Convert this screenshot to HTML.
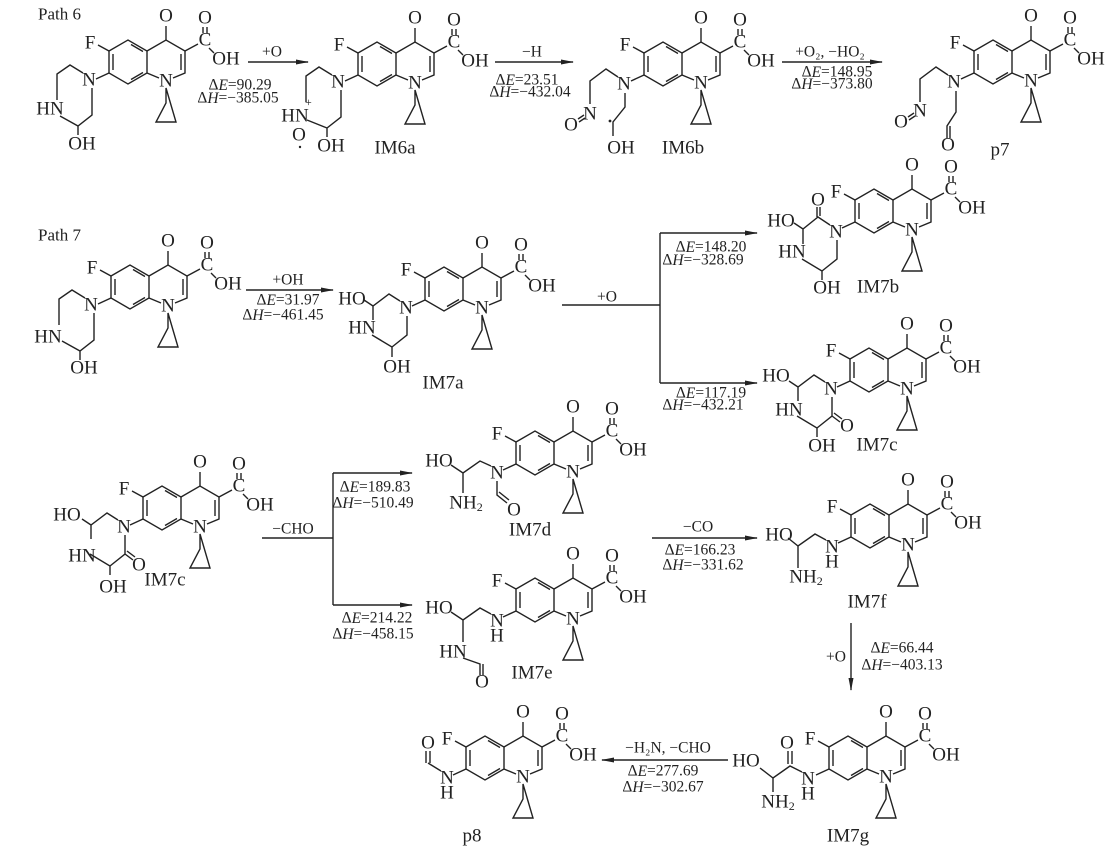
<!DOCTYPE html>
<html><head><meta charset="utf-8"><style>
html,body{margin:0;padding:0;background:#fff;}
svg{display:block;}
text{font-family:"Liberation Serif",serif;fill:#222;}
.a{font-size:19px;dominant-baseline:central;text-anchor:middle;}
.e{font-size:15.5px;dominant-baseline:central;text-anchor:middle;}
.lb{font-size:19px;dominant-baseline:central;text-anchor:middle;}
.s{stroke:#222;stroke-width:1.4;fill:none;}
</style></head><body>
<svg width="1117" height="848" viewBox="0 0 1117 848" xmlns="http://www.w3.org/2000/svg">
<defs>
<marker id="ar" markerWidth="13" markerHeight="7" refX="12" refY="3.5" orient="auto" markerUnits="userSpaceOnUse">
<path d="M0,1 L13,3.5 L0,6 Z" fill="#222"/></marker>
<g id="core" class="s">
<path d="M-19,-11 L0,-22 L19,-11 L19,11 L0,22 L-19,11 Z"/>
<path d="M-15,-8 L-15,8 M3,-17.5 L15,-10.5 M3,17.5 L15,10.5"/>
<path d="M19,-11 L38,-22 L57,-11 L57,11 L45,16 M31,16 L19,11 M53,-8 L53,8"/>
<path d="M38,-22 L38,-36 M57,-11 L70,-18 M75,-29 L75,-35 M79,-29 L79,-35 M81,-14 L86,-9"/>
<path d="M38,26 L38,41 L28,60 L48,60 Z"/>
<path d="M-19,-11 L-30,-17 M-19,11 L-32,17"/>
</g>
</defs>
<g class="s" marker-end="url(#ar)">
<path d="M248,62 L308,62"/>
<path d="M495,62 L573,62"/>
<path d="M782,62 L882,62"/>
<path d="M246,290 L333,290"/>
<path d="M660,233 L757,233"/>
<path d="M660,383 L757,383"/>
<path d="M333,473 L412,473"/>
<path d="M333,605 L412,605"/>
<path d="M652,538 L757,538"/>
<path d="M851,623 L851,690"/>
<path d="M728,760 L602,760"/>
</g>
<path class="s" d="M562,305 L660,305 M660,233 L660,383 M262,538 L333,538 M333,473 L333,605"/>

<text x="38" y="14" style="font-size:17px;dominant-baseline:central">Path 6</text>
<text x="38" y="235" style="font-size:17px;dominant-baseline:central">Path 7</text>

<text class="e" x="272" y="52">+O</text>
<text class="e" x="240" y="85">Δ<tspan font-style="italic">E</tspan>=90.29</text>
<text class="e" x="238" y="98">Δ<tspan font-style="italic">H</tspan>=−385.05</text>
<text class="e" x="532" y="52">−H</text>
<text class="e" x="527" y="80">Δ<tspan font-style="italic">E</tspan>=23.51</text>
<text class="e" x="530" y="92">Δ<tspan font-style="italic">H</tspan>=−432.04</text>
<text class="e" x="830" y="52">+O₂, −HO₂</text>
<text class="e" x="837" y="72">Δ<tspan font-style="italic">E</tspan>=148.95</text>
<text class="e" x="832" y="84">Δ<tspan font-style="italic">H</tspan>=−373.80</text>
<text class="e" x="288" y="280">+OH</text>
<text class="e" x="288" y="300">Δ<tspan font-style="italic">E</tspan>=31.97</text>
<text class="e" x="283" y="315">Δ<tspan font-style="italic">H</tspan>=−461.45</text>
<text class="e" x="607" y="297">+O</text>
<text class="e" x="711" y="247">Δ<tspan font-style="italic">E</tspan>=148.20</text>
<text class="e" x="703" y="260">Δ<tspan font-style="italic">H</tspan>=−328.69</text>
<text class="e" x="711" y="393">Δ<tspan font-style="italic">E</tspan>=117.19</text>
<text class="e" x="703" y="405">Δ<tspan font-style="italic">H</tspan>=−432.21</text>
<text class="e" x="293" y="529">−CHO</text>
<text class="e" x="375" y="487">Δ<tspan font-style="italic">E</tspan>=189.83</text>
<text class="e" x="373" y="503">Δ<tspan font-style="italic">H</tspan>=−510.49</text>
<text class="e" x="377" y="618">Δ<tspan font-style="italic">E</tspan>=214.22</text>
<text class="e" x="373" y="634">Δ<tspan font-style="italic">H</tspan>=−458.15</text>
<text class="e" x="698" y="527">−CO</text>
<text class="e" x="700" y="550">Δ<tspan font-style="italic">E</tspan>=166.23</text>
<text class="e" x="703" y="565">Δ<tspan font-style="italic">H</tspan>=−331.62</text>
<text class="e" x="836" y="657">+O</text>
<text class="e" x="902" y="648">Δ<tspan font-style="italic">E</tspan>=66.44</text>
<text class="e" x="902" y="665">Δ<tspan font-style="italic">H</tspan>=−403.13</text>
<text class="e" x="668" y="748">−H₂N, −CHO</text>
<text class="e" x="663" y="771">Δ<tspan font-style="italic">E</tspan>=277.69</text>
<text class="e" x="663" y="787">Δ<tspan font-style="italic">H</tspan>=−302.67</text>

<text class="lb" x="395" y="148">IM6a</text>
<text class="lb" x="683" y="148">IM6b</text>
<text class="lb" x="1000" y="150">p7</text>
<text class="lb" x="443" y="383">IM7a</text>
<text class="lb" x="878" y="287">IM7b</text>
<text class="lb" x="877" y="445">IM7c</text>
<text class="lb" x="165" y="580">IM7c</text>
<text class="lb" x="530" y="530">IM7d</text>
<text class="lb" x="532" y="673">IM7e</text>
<text class="lb" x="867" y="602">IM7f</text>
<text class="lb" x="848" y="836">IM7g</text>
<text class="lb" x="472" y="836">p8</text>

<g transform="translate(128,62)">
<use href="#core"/>
<text class="a" x="-38" y="-19">F</text><text class="a" x="38" y="-46">O</text><text class="a" x="77" y="-44">O</text>
<text class="a" x="77" y="-22">C</text><text class="a" x="98" y="-3">OH</text><text class="a" x="38" y="19">N</text>
<text class="a" x="-39" y="18">N</text>
<path class="s" d="M-45,11 L-58,3 L-71,12 L-71,38 M-68,54 L-50,64 L-36,53 L-36,26 M-50,64 L-50,73"/>
<text class="a" x="-78" y="47">HN</text><text class="a" x="-46" y="82">OH</text>
</g>
<g transform="translate(377,64)">
<use href="#core"/>
<text class="a" x="-38" y="-19">F</text><text class="a" x="38" y="-46">O</text><text class="a" x="77" y="-44">O</text>
<text class="a" x="77" y="-22">C</text><text class="a" x="98" y="-3">OH</text><text class="a" x="38" y="19">N</text>
<text class="a" x="-39" y="18">N</text>
<path class="s" d="M-45,11 L-58,3 L-71,12 L-71,38 M-70,56 L-50,64 L-36,53 L-36,26 M-50,64 L-50,73"/>
<text class="a" x="-82" y="52">HN</text><text style="font-size:12px" x="-72" y="42">+</text>
<text class="a" x="-78" y="71">O</text><circle cx="-77" cy="83" r="1.2" fill="#222"/>
<text class="a" x="-46" y="82">OH</text>
</g>
<g transform="translate(663,64)">
<use href="#core"/>
<text class="a" x="-38" y="-19">F</text><text class="a" x="38" y="-46">O</text><text class="a" x="77" y="-44">O</text>
<text class="a" x="77" y="-22">C</text><text class="a" x="98" y="-3">OH</text><text class="a" x="38" y="19">N</text>
<text class="a" x="-39" y="20">N</text>
<path class="s" d="M-45,13 L-57,5 L-73,17 L-73,40 M-85,55 L-79,51 M-84,58 L-78,54 M-38,29 L-38,43 L-50,58 L-50,72"/>
<circle cx="-53" cy="57" r="1.4" fill="#222"/>
<text class="a" x="-73" y="50">N</text><text class="a" x="-92" y="61">O</text>
<text class="a" x="-42" y="84">OH</text>
</g>
<g transform="translate(993,62)">
<use href="#core"/>
<text class="a" x="-38" y="-19">F</text><text class="a" x="38" y="-46">O</text><text class="a" x="77" y="-44">O</text>
<text class="a" x="77" y="-22">C</text><text class="a" x="98" y="-3">OH</text><text class="a" x="38" y="19">N</text>
<text class="a" x="-39" y="20">N</text>
<path class="s" d="M-45,13 L-57,5 L-73,17 L-73,40 M-85,55 L-79,51 M-84,58 L-78,54 M-37,29 L-37,50 L-46,64 L-46,76 M-43,64 L-43,76"/>
<text class="a" x="-73" y="49">N</text><text class="a" x="-92" y="60">O</text>
<text class="a" x="-45" y="83">O</text>
</g>
<g transform="translate(130,287)">
<use href="#core"/>
<text class="a" x="-38" y="-19">F</text><text class="a" x="38" y="-46">O</text><text class="a" x="77" y="-44">O</text>
<text class="a" x="77" y="-22">C</text><text class="a" x="98" y="-3">OH</text><text class="a" x="38" y="19">N</text>
<text class="a" x="-39" y="18">N</text>
<path class="s" d="M-45,11 L-58,3 L-71,12 L-71,38 M-68,54 L-50,64 L-36,53 L-36,26 M-50,64 L-50,73"/>
<text class="a" x="-82" y="50">HN</text><text class="a" x="-46" y="81">OH</text>
</g>
<g transform="translate(444,289)">
<use href="#core"/>
<text class="a" x="-38" y="-19">F</text><text class="a" x="38" y="-46">O</text><text class="a" x="77" y="-44">O</text>
<text class="a" x="77" y="-22">C</text><text class="a" x="98" y="-3">OH</text><text class="a" x="38" y="19">N</text>
<text class="a" x="-38" y="19">N</text>
<path class="s" d="M-44,12 L-55,5 L-71,17 L-80,11 M-71,17 L-71,31 M-72,46 L-52,58 L-52,68 M-52,58 L-37,46 L-37,27"/>
<text class="a" x="-92" y="10">HO</text><text class="a" x="-82" y="39">HN</text><text class="a" x="-47" y="78">OH</text>
</g>
<g transform="translate(874,211)">
<use href="#core"/>
<text class="a" x="-38" y="-19">F</text><text class="a" x="38" y="-46">O</text><text class="a" x="77" y="-44">O</text>
<text class="a" x="77" y="-22">C</text><text class="a" x="98" y="-3">OH</text><text class="a" x="38" y="19">N</text>
<text class="a" x="-38" y="21">N</text>
<path class="s" d="M-44,14 L-56,6 L-71,18 L-80,12 M-57,6 L-57,-4 M-54,5 L-54,-4 M-71,18 L-71,33 M-72,48 L-52,60 L-52,69 M-52,60 L-37,48 L-37,29"/>
<text class="a" x="-56" y="-11">O</text>
<text class="a" x="-93" y="10">HO</text><text class="a" x="-82" y="41">HN</text><text class="a" x="-47" y="77">OH</text>
</g>
<g transform="translate(869,370)">
<use href="#core"/>
<text class="a" x="-38" y="-19">F</text><text class="a" x="38" y="-46">O</text><text class="a" x="77" y="-44">O</text>
<text class="a" x="77" y="-22">C</text><text class="a" x="98" y="-3">OH</text><text class="a" x="38" y="19">N</text>
<text class="a" x="-38" y="19">N</text>
<path class="s" d="M-44,12 L-55,5 L-71,17 L-80,11 M-71,17 L-71,31 M-72,46 L-52,58 L-52,67 M-52,58 L-37,46 L-37,27 M-37,46 L-29,52 M-35,43 L-27,49"/>
<text class="a" x="-93" y="6">HO</text><text class="a" x="-80" y="40">HN</text><text class="a" x="-47" y="76">OH</text><text class="a" x="-22" y="56">O</text>
</g>
<g transform="translate(162,508)">
<use href="#core"/>
<text class="a" x="-38" y="-19">F</text><text class="a" x="38" y="-46">O</text><text class="a" x="77" y="-44">O</text>
<text class="a" x="77" y="-22">C</text><text class="a" x="98" y="-3">OH</text><text class="a" x="38" y="19">N</text>
<text class="a" x="-38" y="19">N</text>
<path class="s" d="M-44,12 L-55,5 L-71,17 L-80,11 M-71,17 L-71,31 M-72,46 L-52,58 L-52,67 M-52,58 L-37,46 L-37,27 M-37,46 L-29,52 M-35,43 L-27,49"/>
<text class="a" x="-95" y="7">HO</text><text class="a" x="-80" y="48">HN</text><text class="a" x="-49" y="79">OH</text><text class="a" x="-23" y="57">O</text>
</g>
<g transform="translate(535,453)">
<use href="#core"/>
<text class="a" x="-38" y="-19">F</text><text class="a" x="38" y="-46">O</text><text class="a" x="77" y="-44">O</text>
<text class="a" x="77" y="-22">C</text><text class="a" x="98" y="-3">OH</text><text class="a" x="38" y="19">N</text>
<text class="a" x="-38" y="20">N</text>
<path class="s" d="M-44,13 L-55,8 L-72,20 L-84,12 M-72,20 L-72,40 M-38,28 L-38,42 L-28,50 M-36,39 L-26,47"/>
<text class="a" x="-96" y="8">HO</text><text class="a" x="-69" y="50">NH<tspan font-size="12" dy="4">2</tspan></text><text class="a" x="-21" y="57">O</text>
</g>
<g transform="translate(535,600)">
<use href="#core"/>
<text class="a" x="-38" y="-19">F</text><text class="a" x="38" y="-46">O</text><text class="a" x="77" y="-44">O</text>
<text class="a" x="77" y="-22">C</text><text class="a" x="98" y="-3">OH</text><text class="a" x="38" y="19">N</text>
<text class="a" x="-38" y="21">N</text><text class="a" x="-38" y="36">H</text>
<path class="s" d="M-44,14 L-55,8 L-72,20 L-84,12 M-72,20 L-72,42 M-72,58 L-55,64 L-55,75 M-52,64 L-52,75"/>
<text class="a" x="-96" y="8">HO</text><text class="a" x="-82" y="52">HN</text><text class="a" x="-53" y="82">O</text>
</g>
<g transform="translate(870,526)">
<use href="#core"/>
<text class="a" x="-38" y="-19">F</text><text class="a" x="38" y="-46">O</text><text class="a" x="77" y="-44">O</text>
<text class="a" x="77" y="-22">C</text><text class="a" x="98" y="-3">OH</text><text class="a" x="38" y="19">N</text>
<text class="a" x="-38" y="21">N</text><text class="a" x="-38" y="36">H</text>
<path class="s" d="M-44,14 L-55,8 L-72,20 L-82,12 M-72,20 L-72,42"/>
<text class="a" x="-91" y="9">HO</text><text class="a" x="-64" y="51">NH<tspan font-size="12" dy="4">2</tspan></text>
</g>
<g transform="translate(848,758)">
<use href="#core"/>
<text class="a" x="-38" y="-19">F</text><text class="a" x="38" y="-46">O</text><text class="a" x="77" y="-44">O</text>
<text class="a" x="77" y="-22">C</text><text class="a" x="98" y="-3">OH</text><text class="a" x="38" y="19">N</text>
<text class="a" x="-40" y="21">N</text><text class="a" x="-40" y="36">H</text>
<path class="s" d="M-46,14 L-58,8 L-75,20 L-88,10 M-60,6 L-60,-7 M-56,6 L-56,-7 M-75,20 L-75,34"/>
<text class="a" x="-61" y="-15">O</text><text class="a" x="-102" y="3">HO</text><text class="a" x="-70" y="44">NH<tspan font-size="12" dy="4">2</tspan></text>
</g>
<g transform="translate(485,758)">
<use href="#core"/>
<text class="a" x="-38" y="-19">F</text><text class="a" x="38" y="-46">O</text><text class="a" x="77" y="-44">O</text>
<text class="a" x="77" y="-22">C</text><text class="a" x="98" y="-3">OH</text><text class="a" x="38" y="19">N</text>
<text class="a" x="-38" y="20">N</text><text class="a" x="-38" y="35">H</text>
<path class="s" d="M-44,13 L-57,5 M-59,5 L-59,-7 M-55,5 L-55,-7"/>
<text class="a" x="-57" y="-15">O</text>
</g>
</svg>
</body></html>
